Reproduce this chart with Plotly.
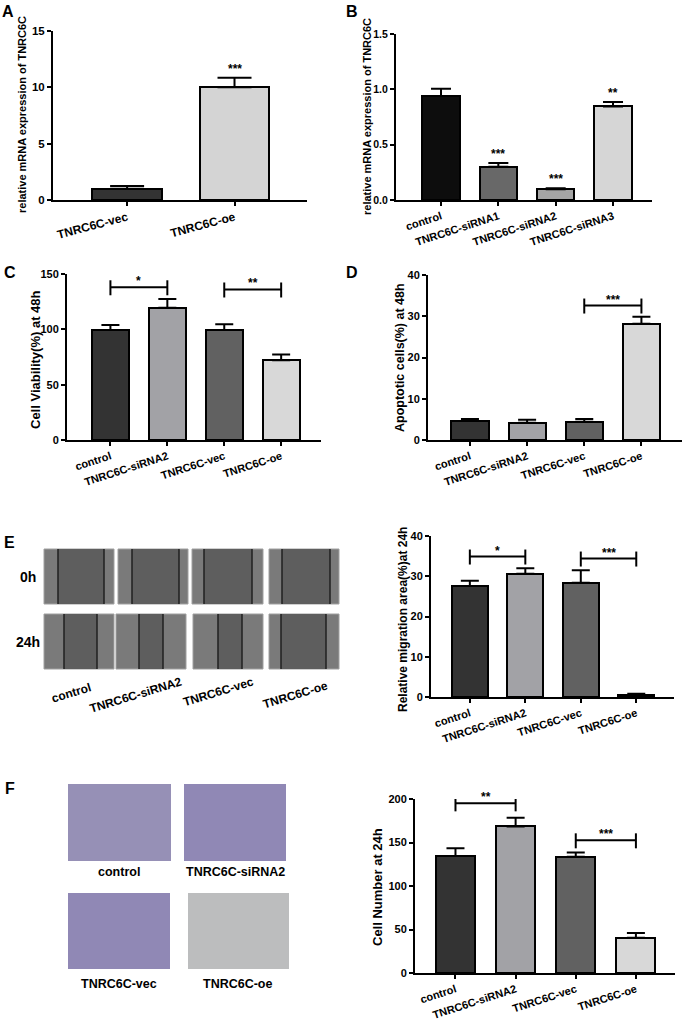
import plotly.graph_objects as go

W, H = 684, 1025
FONT = "Liberation Sans"

# ---------------- data ----------------
a_cats = ["TNRC6C-vec", "TNRC6C-oe"]
a_vals = [1.0, 10.0]
a_err = [0.25, 0.85]
a_sig = ["", "***"]
a_colors = ["#333333", "#d4d4d4"]

b_cats = ["control", "TNRC6C-siRNA1", "TNRC6C-siRNA2", "TNRC6C-siRNA3"]
b_vals = [0.94, 0.30, 0.097, 0.845]
b_err = [0.065, 0.035, 0.01, 0.04]
b_sig = ["", "***", "***", "**"]
b_colors = ["#0d0d0d", "#686868", "#a5a5a5", "#d6d6d6"]

grp_cats = ["control", "TNRC6C-siRNA2", "TNRC6C-vec", "TNRC6C-oe"]
grp_colors = ["#333333", "#a2a2a6", "#616161", "#d8d8d8"]

c_vals = [99.5, 119.5, 99.5, 72]
c_err = [4.5, 7.8, 5.0, 5.3]
c_brackets = [(0, 1, 138, "*"), (2, 3, 136, "**")]

d_vals = [4.7, 4.2, 4.4, 28.2]
d_err = [0.4, 0.7, 0.7, 1.7]
d_brackets = [(2, 3, 32.6, "***")]

e_vals = [27.6, 30.6, 28.4, 0.5]
e_err = [1.3, 1.4, 3.1, 0.3]
e_brackets = [(0, 1, 34.9, "*"), (2, 3, 34.4, "***")]

f_vals = [134.5, 168.5, 133.5, 40.5]
f_err = [9, 10, 5, 5.5]
f_brackets = [(0, 1, 195, "**"), (2, 3, 152.5, "***")]

e_rows = ["0h", "24h"]
f_density = [0.45, 0.50, 0.50, 0.18]

# ---------------- layout helpers ----------------
def xd(a, b):
    return [a / W, b / W]

def yd(top, bottom):
    return [1 - bottom / H, 1 - top / H]

def B(s):
    return f"<b>{s}</b>"

def paper_text(text, px, py, size, angle=0):
    return dict(text=B(text), x=px / W, y=1 - py / H, xref="paper", yref="paper",
                xanchor="center", yanchor="middle", textangle=angle, showarrow=False,
                font=dict(family=FONT, size=size, color="black"))

fig = go.Figure()

panels = [
    dict(cats=a_cats, vals=a_vals, err=a_err, colors=a_colors, yr=[0, 15], dt=5,
         xp=(53, 307), yp=(31, 200), xr=[-0.69, 1.675], ang=-15, xf=12, yf=11.5,
         title="relative mRNA expression of TNRC6C", tpos=(22, 115), tsize=11,
         fmt="d", br=[], sig=a_sig, cap=17),
    dict(cats=b_cats, vals=b_vals, err=b_err, colors=b_colors, yr=[0, 1.5], dt=0.5,
         xp=(396, 652), yp=(34, 200), xr=[-0.785, 3.68], ang=-18, xf=11, yf=10.5,
         title="relative mRNA expression of TNRC6C", tpos=(367, 117), tsize=11,
         fmt=".1f", br=[], sig=b_sig, cap=10),
    dict(cats=grp_cats, vals=c_vals, err=c_err, colors=grp_colors, yr=[0, 150], dt=50,
         xp=(67, 321), yp=(274, 440), xr=[-0.763, 3.70], ang=-18, xf=11, yf=11,
         title="Cell Viability(%) at 48h", tpos=(35, 360), tsize=13,
         fmt="d", br=c_brackets, sig=None, cap=9),
    dict(cats=grp_cats, vals=d_vals, err=d_err, colors=grp_colors, yr=[0, 40], dt=10,
         xp=(428, 682), yp=(275, 440), xr=[-0.734, 3.71], ang=-18, xf=11, yf=11,
         title="Apoptotic cells(%) at 48h", tpos=(400, 358), tsize=12.5,
         fmt="d", br=d_brackets, sig=None, cap=9),
    dict(cats=grp_cats, vals=e_vals, err=e_err, colors=grp_colors, yr=[0, 40], dt=10,
         xp=(431, 674), yp=(536, 697), xr=[-0.70, 3.68], ang=-18, xf=11, yf=11,
         title="Relative migration area(%)at 24h", tpos=(403, 620), tsize=12,
         fmt="d", br=e_brackets, sig=None, cap=9),
    dict(cats=grp_cats, vals=f_vals, err=f_err, colors=grp_colors, yr=[0, 200], dt=50,
         xp=(415, 675), yp=(799, 973), xr=[-0.673, 3.65], ang=-18, xf=11, yf=11,
         title="Cell Number at 24h", tpos=(377, 887), tsize=13,
         fmt="d", br=f_brackets, sig=None, cap=9),
]

shapes = []
annotations = []

for k, p in enumerate(panels):
    n = k + 1
    xa = "x" if n == 1 else f"x{n}"
    ya = "y" if n == 1 else f"y{n}"
    idx = list(range(len(p["cats"])))
    fig.add_trace(go.Bar(
        x=idx, y=p["vals"], xaxis=xa, yaxis=ya, width=0.65,
        marker=dict(color=p["colors"], line=dict(color="black", width=2)),
        error_y=dict(type="data", array=p["err"], arrayminus=[0] * len(idx),
                     symmetric=False, color="black", thickness=2, width=p["cap"]),
        showlegend=False, hoverinfo="skip"))
    ticks = []
    v = p["yr"][0]
    while v <= p["yr"][1] + 1e-9:
        ticks.append(round(v, 4))
        v += p["dt"]
    tick_text = [B(format(t, p["fmt"]) if p["fmt"] != "d" else str(int(t))) for t in ticks]
    ykey = "yaxis" if n == 1 else f"yaxis{n}"
    xkey = "xaxis" if n == 1 else f"xaxis{n}"
    fig.update_layout(**{
        xkey: dict(domain=xd(*p["xp"]), anchor=ya, range=p["xr"], tickvals=idx,
                   ticktext=[B(c) for c in p["cats"]], tickangle=p["ang"], showline=True,
                   linewidth=2, linecolor="black", ticks="outside", ticklen=4, tickwidth=2,
                   tickcolor="black", showgrid=False, zeroline=False,
                   tickfont=dict(family=FONT, size=p["xf"], color="black"),
                   fixedrange=True, automargin=False),
        ykey: dict(domain=yd(*p["yp"]), anchor=xa, range=p["yr"], tickvals=ticks,
                   ticktext=tick_text, showline=True, linewidth=2, linecolor="black",
                   ticks="outside", ticklen=4, tickwidth=2, tickcolor="black",
                   showgrid=False, zeroline=False,
                   tickfont=dict(family=FONT, size=p["yf"], color="black"),
                   fixedrange=True, automargin=False),
    })
    annotations.append(paper_text(p["title"], p["tpos"][0], p["tpos"][1], p["tsize"], -90))
    for (i, j, h, s) in p["br"]:
        shapes.append(dict(type="line", xref=xa, yref=ya, x0=i, x1=j, y0=h, y1=h,
                           line=dict(color="black", width=2)))
        for xx in (i, j):
            shapes.append(dict(type="line", xref=xa, yref=ya, x0=xx, x1=xx,
                               ysizemode="pixel", yanchor=h, y0=-8, y1=7,
                               line=dict(color="black", width=2)))
        annotations.append(dict(text=B(s), x=(i + j) / 2, y=h, xref=xa, yref=ya,
                                xanchor="center", yanchor="bottom", showarrow=False, yshift=-3,
                                font=dict(family=FONT, size=12, color="black")))
    if p["sig"]:
        for i, s in enumerate(p["sig"]):
            if s:
                annotations.append(dict(text=B(s), x=i, y=p["vals"][i] + p["err"][i],
                                        xref=xa, yref=ya, xanchor="center", yanchor="bottom",
                                        showarrow=False, yshift=0,
                                        font=dict(family=FONT, size=12, color="black")))

# ---------------- panel letters ----------------
for letter, (px, py) in zip("ABCDEF", [(8, 11), (352, 11), (10, 272), (352, 272), (9, 542), (10, 788)]):
    annotations.append(paper_text(letter, px, py, 16))

# ---------------- E: scratch images (illustration) ----------------
e_boxes = [
    [(44, 114, 58, 104), (118, 188, 132, 179), (192, 263, 204, 252), (269, 339, 282, 330)],
    [(44, 114, 64, 97), (116, 186, 139, 163), (193, 263, 218, 242), (269, 339, 281, 326)],
]
e_rows_y = [(549, 604), (614, 669)]
for r, row in enumerate(e_boxes):
    t, b = e_rows_y[r]
    for (x0, x1, g0, g1) in row:
        shapes.append(dict(type="rect", xref="paper", yref="paper", x0=x0 / W, x1=x1 / W,
                           y0=1 - b / H, y1=1 - t / H, fillcolor="#7a7a7a",
                           line=dict(color="#a0a0a0", width=1)))
        shapes.append(dict(type="rect", xref="paper", yref="paper", x0=g0 / W, x1=g1 / W,
                           y0=1 - b / H, y1=1 - t / H, fillcolor="#5e5e5e", line=dict(width=0)))
        for g in (g0, g1):
            shapes.append(dict(type="line", xref="paper", yref="paper", x0=g / W, x1=g / W,
                               y0=1 - b / H, y1=1 - t / H, line=dict(color="#202020", width=1.5)))
    annotations.append(paper_text(e_rows[r], 28, (t + b) / 2, 14))
for cat, (cx, cy) in zip(grp_cats, [(71, 693), (136, 695), (218, 692), (295, 695)]):
    annotations.append(paper_text(cat, cx, cy, 12, -17))

# ---------------- F: transwell images (illustration) ----------------
f_boxes = [(68, 171, 784, 861), (184, 286, 784, 861), (68, 170, 893, 969), (188, 289, 893, 969)]
f_label_pos = [(119, 872), (235, 872), (119, 984), (237, 984)]
for cat, (x0, x1, t, b), dens, (lx, ly) in zip(grp_cats, f_boxes, f_density, f_label_pos):
    shapes.append(dict(type="rect", xref="paper", yref="paper", x0=x0 / W, x1=x1 / W,
                       y0=1 - b / H, y1=1 - t / H, fillcolor="#d6dcc4", line=dict(width=0)))
    shapes.append(dict(type="rect", xref="paper", yref="paper", x0=x0 / W, x1=x1 / W,
                       y0=1 - b / H, y1=1 - t / H, fillcolor="#4a34a6", opacity=dens,
                       line=dict(width=0)))
    annotations.append(paper_text(cat, lx, ly, 12.5))

fig.update_layout(width=W, height=H, margin=dict(l=0, r=0, t=0, b=0, autoexpand=False),
                  paper_bgcolor="white", plot_bgcolor="white", bargap=0,
                  shapes=shapes, annotations=annotations,
                  font=dict(family=FONT, color="black"))

fig.write_html("out.html", config={"displayModeBar": False},
               post_script="document.body.style.margin='0';")
